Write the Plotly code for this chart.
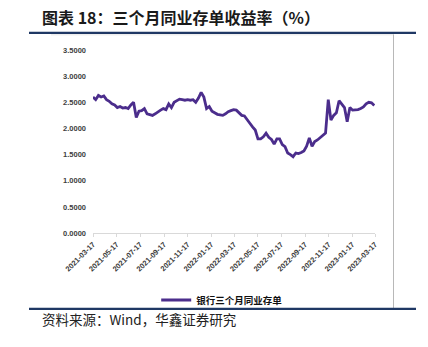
import pandas as pd
import plotly.graph_objects as go

# ---- data (weekly readings, %) ----
start_date = "2021-03-17"
n_weeks = 105
rates = [
    2.60, 2.55, 2.63, 2.60, 2.62, 2.55, 2.52, 2.47, 2.45, 2.40,
    2.42, 2.39, 2.40, 2.38, 2.45, 2.50, 2.21, 2.33, 2.34, 2.38,
    2.28, 2.27, 2.25, 2.28, 2.32, 2.35, 2.38, 2.36, 2.47, 2.40,
    2.50, 2.53, 2.56, 2.55, 2.54, 2.55, 2.54, 2.55, 2.50, 2.58,
    2.69, 2.60, 2.38, 2.42, 2.33, 2.30, 2.27, 2.26, 2.25, 2.28,
    2.32, 2.34, 2.36, 2.35, 2.30, 2.25, 2.24, 2.16, 2.10, 2.03,
    1.97, 1.80, 1.80, 1.84, 1.91, 1.83, 1.79, 1.70, 1.80, 1.80,
    1.69, 1.65, 1.53, 1.50, 1.46, 1.53, 1.52, 1.54, 1.57, 1.66,
    1.82, 1.66, 1.75, 1.78, 1.82, 1.86, 1.91, 2.55, 2.16, 2.25,
    2.30, 2.53, 2.47, 2.40, 2.13, 2.40, 2.35, 2.35, 2.36, 2.38,
    2.41, 2.47, 2.50, 2.49, 2.44,
]
dates = pd.date_range(start_date, periods=n_weeks, freq="7D")
tick_labels = [
    "2021-03-17", "2021-05-17", "2021-07-17", "2021-09-17", "2021-11-17",
    "2022-01-17", "2022-03-17", "2022-05-17", "2022-07-17", "2022-09-17",
    "2022-11-17", "2023-01-17", "2023-03-17",
]
y_ticks = [0, 0.5, 1.0, 1.5, 2.0, 2.5, 3.0, 3.5]
series_name = "银行三个月同业存单"
title_text = "图表 18：三个月同业存单收益率（%）"
source_text = "资料来源：Wind，华鑫证券研究"

# ---- layout geometry ----
W, H = 428, 347
L, R, T, B = 93, 53, 50, 110
PW, PH = W - L - R, H - T - B


def px(x):
    return (x - L) / PW


def py(y):
    return (H - B - y) / PH


NAVY = "#1f3864"
PURPLE = "#4b2d8c"

fig = go.Figure()
fig.add_trace(go.Scatter(
    x=dates, y=rates, mode="lines", name=series_name,
    line=dict(color=PURPLE, width=2.8),
))

fig.update_layout(
    width=W, height=H,
    margin=dict(l=L, r=R, t=T, b=B, pad=0),
    paper_bgcolor="white", plot_bgcolor="white",
    showlegend=True,
    legend=dict(
        orientation="h", xref="container", yref="container",
        x=0.518, y=1 - 300 / H, xanchor="center", yanchor="middle",
        font=dict(family="Noto Sans CJK SC", size=9.5, color="#111111", weight="bold"),
        itemwidth=30, bgcolor="rgba(0,0,0,0)",
    ),
    xaxis=dict(
        range=[tick_labels[0], tick_labels[-1]],
        tickvals=tick_labels, ticktext=tick_labels,
        tickangle=-45, ticks="outside", ticklen=3, tickcolor="#d9d9d9",
        showline=True, linecolor="#d9d9d9", linewidth=1,
        showgrid=False, zeroline=False,
        tickfont=dict(family="Liberation Sans", size=7.5, color="#404040", weight="bold"),
    ),
    yaxis=dict(
        range=[0, 3.5], tickvals=y_ticks, tickformat=".4f",
        showgrid=False, zeroline=False, showline=False, ticks="",
        ticklabelstandoff=6,
        tickfont=dict(family="Liberation Sans", size=7.5, color="#404040", weight="bold"),
    ),
)

shapes = [
    # title underline
    dict(type="line", xref="paper", yref="paper", x0=px(29), x1=px(416), y0=py(32.5), y1=py(32.5),
         line=dict(color=NAVY, width=2.2)),
    # light frame top
    dict(type="line", xref="paper", yref="paper", x0=px(51), x1=px(393), y0=py(34.5), y1=py(34.5),
         line=dict(color="#e6e6e6", width=1)),
    # frame right
    dict(type="line", xref="paper", yref="paper", x0=px(393.5), x1=px(393.5), y0=py(34), y1=py(314),
         line=dict(color="#b8b8b8", width=1)),
    # bottom rule
    dict(type="line", xref="paper", yref="paper", x0=px(29), x1=px(416), y0=py(314.5), y1=py(314.5),
         line=dict(color=NAVY, width=2.2)),
]
fig.update_layout(shapes=shapes)

fig.add_annotation(
    xref="paper", yref="paper", x=px(40), y=py(16), xanchor="left", yanchor="middle",
    text=title_text, showarrow=False,
    font=dict(family="Noto Sans CJK SC", size=16, color="#1a1a1a", weight="bold"),
)
fig.add_annotation(
    xref="paper", yref="paper", x=px(40), y=py(325), xanchor="left", yanchor="middle",
    text=source_text, showarrow=False,
    font=dict(family="Noto Sans CJK SC", size=13.5, color="#222222"),
)

fig.write_html("out.html")
